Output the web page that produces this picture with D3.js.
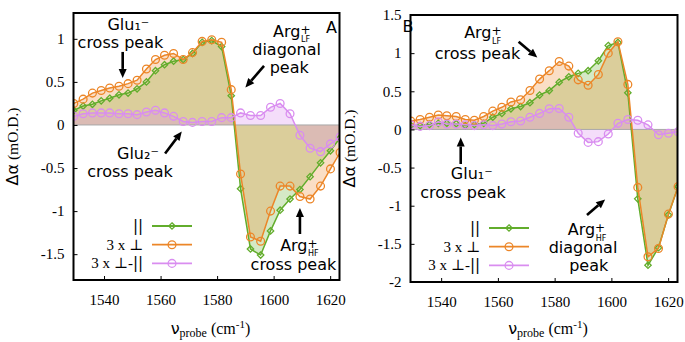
<!DOCTYPE html>
<html lang="en">
<head>
<meta charset="UTF-8">
<title>Polarization resolved 2D-IR cross peaks</title>
<script src="https://d3js.org/d3.v7.min.js"></script>
<style>
  body { margin: 0; background: #fff; }
  .tick text { font-family: "Liberation Serif", "Times New Roman", "DejaVu Serif", serif; font-size: 15px; fill: #000; }
  .note { font-family: "DejaVu Sans", sans-serif; font-size: 16px; }
  .serif { font-family: "Liberation Serif", "Times New Roman", "DejaVu Serif", serif; }
</style>
</head>
<body>
<svg id="chart" width="685" height="342"></svg>
<script>
// probe frequencies (cm-1), same grid in both panels
const wavenumber = [1529.3, 1532.6, 1535.9, 1539.0, 1542.0, 1545.3, 1548.5, 1551.7, 1555.0, 1558.2,
                    1561.4, 1564.6, 1568.0, 1571.3, 1574.7, 1578.1, 1581.6, 1585.0, 1588.3, 1591.8,
                    1595.4, 1598.9, 1602.3, 1605.8, 1609.3, 1612.9, 1616.6, 1620.1, 1623.5];

// panel A
const parA  = [0.17, 0.22, 0.24, 0.28, 0.31, 0.35, 0.37, 0.42, 0.50, 0.63, 0.70, 0.74, 0.76, 0.83, 0.96,
               0.98, 0.91, 0.34, -0.74, -1.44, -1.51, -1.23, -0.99, -0.86, -0.75, -0.60, -0.44, -0.30, -0.15];
const perpA = [0.25, 0.30, 0.37, 0.40, 0.43, 0.45, 0.48, 0.52, 0.65, 0.76, 0.81, 0.83, 0.76, 0.84, 0.97,
               0.99, 0.96, 0.41, -0.57, -1.30, -1.35, -1.00, -0.71, -0.71, -0.83, -0.86, -0.71, -0.51, -0.32];
const diffA = [0.10, 0.13, 0.14, 0.14, 0.14, 0.13, 0.13, 0.12, 0.15, 0.17, 0.14, 0.10, 0.04, 0.03, 0.04,
               0.04, 0.085, 0.085, 0.14, 0.11, 0.11, 0.205, 0.25, 0.13, -0.12, -0.27, -0.31, -0.22, -0.14];

// panel B
const parB  = [0.05, 0.05, 0.065, 0.08, 0.08, 0.075, 0.05, 0.065, 0.08, 0.16, 0.21, 0.27, 0.30, 0.35, 0.45,
               0.51, 0.62, 0.69, 0.735, 0.77, 0.90, 1.10, 1.14, 0.48, -0.91, -1.78, -1.55, -1.12, -0.75];
const perpB = [0.11, 0.13, 0.16, 0.19, 0.18, 0.17, 0.13, 0.12, 0.17, 0.24, 0.29, 0.36, 0.39, 0.51, 0.66,
               0.77, 0.89, 0.83, 0.65, 0.58, 0.72, 1.00, 1.15, 0.59, -0.76, -1.67, -1.56, -1.11, -0.75];
const diffB = [0.06, 0.04, 0.05, 0.10, 0.07, 0.07, 0.06, 0.05, 0.06, 0.05, 0.07, 0.10, 0.11, 0.16, 0.21,
               0.27, 0.275, 0.16, -0.05, -0.17, -0.16, -0.06, 0.08, 0.13, 0.12, 0.06, -0.07, -0.05, -0.03];

const xTicks  = [1540, 1560, 1580, 1600, 1620];
const yTicksA = [-1.5, -1, -0.5, 0, 0.5, 1];
const yTicksB = [-2, -1.5, -1, -0.5, 0, 0.5, 1, 1.5];
const seriesNames = ["par", "perp", "diff"];

const colors = { par: "#62ad2c", perp: "#ec8628", diff: "#d98df0" };

const svg = d3.select("#chart");

function arrow(g, x1, y1, x2, y2) {
    const ang = Math.atan2(y2 - y1, x2 - x1);
    const len = 9, half = 4;
    const bx = x2 - len * Math.cos(ang), by = y2 - len * Math.sin(ang);
    g.append("line")
        .attr("x1", x1).attr("y1", y1).attr("x2", bx).attr("y2", by)
        .attr("stroke", "#000").attr("stroke-width", 2.6);
    g.append("path")
        .attr("d", `M${x2},${y2}L${bx - half * Math.sin(ang)},${by + half * Math.cos(ang)}` +
                   `L${bx + half * Math.sin(ang)},${by - half * Math.cos(ang)}Z`)
        .attr("fill", "#000");
}

// text with Arg+ and a stacked subscript (LF / HF)
function argLabel(g, x, y, sub) {
    const t = g.append("text").attr("class", "note").attr("x", x).attr("y", y);
    t.append("tspan").text("Arg");
    t.append("tspan").attr("font-size", 12).attr("dy", -3).text("+");
    t.append("tspan").attr("font-size", 8).attr("dx", -9.5).attr("dy", 8.5).text(sub);
}

function note(g, x, y, txt) {
    g.append("text").attr("class", "note").attr("x", x).attr("y", y)
        .attr("text-anchor", "middle").text(txt);
}

function marker(g, name, cx, cy) {
    if (name === "par") {
        g.append("path")
            .attr("d", `M${cx},${cy - 3.2}L${cx + 3.2},${cy}L${cx},${cy + 3.2}L${cx - 3.2},${cy}Z`)
            .attr("fill", "none").attr("stroke", colors[name]).attr("stroke-width", 1.3);
    } else {
        g.append("circle").attr("cx", cx).attr("cy", cy).attr("r", 3.9)
            .attr("fill", "none").attr("stroke", colors[name]).attr("stroke-width", 1.3);
    }
}

function drawPanel(cfg) {
    const x = d3.scaleLinear().domain([1529.2, 1623.3]).range([cfg.left, cfg.right]);
    const y = d3.scaleLinear().domain(cfg.yDomain).range([cfg.bottom, cfg.top]);
    const g = svg.append("g");

    const clipId = "clip" + cfg.id;
    svg.append("clipPath").attr("id", clipId)
        .append("rect").attr("x", cfg.left).attr("y", cfg.top)
        .attr("width", cfg.right - cfg.left).attr("height", cfg.bottom - cfg.top);

    const rows = wavenumber.map((w, i) => ({ w, par: cfg.data.par[i], perp: cfg.data.perp[i], diff: cfg.data.diff[i] }));

    const plot = g.append("g").attr("clip-path", `url(#${clipId})`);

    // shaded areas between each curve and zero
    seriesNames.forEach(name => {
        const area = d3.area().x(d => x(d.w)).y0(y(0)).y1(d => y(d[name]));
        plot.append("path").datum(rows).attr("d", area)
            .attr("fill", colors[name]).attr("fill-opacity", name === "diff" ? 0.3 : 0.27);
    });

    // zero line
    plot.append("line").attr("x1", cfg.left).attr("x2", cfg.right)
        .attr("y1", y(0)).attr("y2", y(0))
        .attr("stroke", "#a8a8a8").attr("stroke-width", 1);

    seriesNames.forEach(name => {
        const line = d3.line().x(d => x(d.w)).y(d => y(d[name]));
        plot.append("path").datum(rows).attr("d", line)
            .attr("fill", "none").attr("stroke", colors[name]).attr("stroke-width", 1.5);
        const mg = plot.append("g");
        rows.forEach(d => marker(mg, name, x(d.w), y(d[name])));
    });

    // axes with inward ticks
    g.append("g").attr("transform", `translate(0,${cfg.bottom})`)
        .call(d3.axisBottom(x).tickValues(xTicks).tickFormat(d3.format("d"))
            .tickSizeInner(-4).tickSizeOuter(0).tickPadding(14))
        .call(a => a.select(".domain").remove());
    g.append("g").attr("transform", `translate(${cfg.left},0)`)
        .call(d3.axisLeft(y).tickValues(cfg.yTicks).tickSizeInner(-4).tickSizeOuter(0).tickPadding(9)
            .tickFormat(d => String(d)))
        .call(a => a.select(".domain").remove());

    g.append("rect").attr("x", cfg.left).attr("y", cfg.top)
        .attr("width", cfg.right - cfg.left).attr("height", cfg.bottom - cfg.top)
        .attr("fill", "none").attr("stroke", "#000").attr("stroke-width", 2);

    // axis titles
    const yl = g.append("text")
        .attr("transform", `translate(${cfg.left - 56},${(cfg.top + cfg.bottom) / 2}) rotate(-90)`)
        .attr("text-anchor", "middle");
    yl.append("tspan").attr("class", "note").text("Δα");
    yl.append("tspan").attr("class", "serif").attr("font-size", 15.5).text(" (mO.D.)");

    const xl = g.append("text").attr("class", "serif")
        .attr("x", (cfg.left + cfg.right) / 2 + 4).attr("y", 334)
        .attr("text-anchor", "middle").attr("font-size", 16);
    xl.append("tspan").attr("class", "note").attr("font-size", 17).text("ν");
    xl.append("tspan").attr("font-size", 12).attr("dy", 3).text("probe");
    xl.append("tspan").attr("dy", -3).text(" (cm");
    xl.append("tspan").attr("font-size", 11).attr("dy", -6).text("-1");
    xl.append("tspan").attr("dy", 6).text(")");

    // legend
    cfg.legend.forEach((lab, i) => {
        const ly = cfg.legendY + i * 18.7;
        const t = g.append("text").attr("class", "serif").attr("x", cfg.legendX).attr("y", ly + 5)
            .attr("text-anchor", "end").attr("font-size", 15);
        t.append("tspan").text(lab[0]);
        t.append("tspan").attr("font-family", "DejaVu Sans, sans-serif").text(lab[1]);
        const name = seriesNames[i];
        g.append("line").attr("x1", cfg.legendX + 9).attr("x2", cfg.legendX + 49)
            .attr("y1", ly).attr("y2", ly).attr("stroke", colors[name]).attr("stroke-width", 1.8);
        marker(g, name, cfg.legendX + 29, ly);
    });

    cfg.notes(g, x, y);
}

drawPanel({
    id: "A", left: 73.5, right: 339.5, top: 13, bottom: 280,
    yDomain: [-1.8, 1.3], yTicks: yTicksA,
    data: { par: parA, perp: perpA, diff: diffA },
    legend: [["", "||"], ["3 x ⊥", ""], ["3 x ⊥-", "||"]],
    legendX: 143, legendY: 226,
    notes: (g, x, y) => {
        note(g, x(1548.6), y(1.10), "Glu₁⁻");
        note(g, x(1545.8), y(0.894), "cross peak");
        arrow(g, x(1546.6), y(0.848), x(1546.6), y(0.546));
        argLabel(g, x(1599.8), y(1.025), "LF");
        note(g, x(1604.6), y(0.813), "diagonal");
        note(g, x(1605.5), y(0.60), "peak");
        arrow(g, x(1596.6), y(0.685), x(1590.0), y(0.435));
        note(g, x(1620.5), y(1.072), "A");
        note(g, x(1552.0), y(-0.398), "Glu₂⁻");
        note(g, x(1549.2), y(-0.604), "cross peak");
        arrow(g, x(1561.6), y(-0.331), x(1567.5), y(-0.075));
        argLabel(g, x(1602.3), y(-1.463), "HF");
        note(g, x(1607.0), y(-1.684), "cross peak");
        arrow(g, x(1609.3), y(-1.266), x(1609.3), y(-0.964));
    }
});

drawPanel({
    id: "B", left: 410.5, right: 677.5, top: 15, bottom: 282,
    yDomain: [-2, 1.5], yTicks: yTicksB,
    data: { par: parB, perp: perpB, diff: diffB },
    legend: [["", "||"], ["3 x ⊥", ""], ["3 x ⊥-", "||"]],
    legendX: 480, legendY: 228,
    notes: (g, x, y) => {
        note(g, x(1528.3), y(1.277), "B");
        argLabel(g, x(1548.1), y(1.194), "LF");
        note(g, x(1552.8), y(0.919), "cross peak");
        arrow(g, x(1567.3), y(1.150), x(1573.9), y(0.943));
        arrow(g, x(1546.9), y(-0.453), x(1546.9), y(-0.106));
        note(g, x(1550.8), y(-0.650), "Glu₁⁻");
        note(g, x(1547.7), y(-0.903), "cross peak");
        arrow(g, x(1591.4), y(-1.122), x(1597.8), y(-0.918));
        argLabel(g, x(1584.6), y(-1.384), "HF");
        note(g, x(1590.0), y(-1.616), "diagonal");
        note(g, x(1592.0), y(-1.856), "peak");
    }
});
</script>
</body>
</html>
